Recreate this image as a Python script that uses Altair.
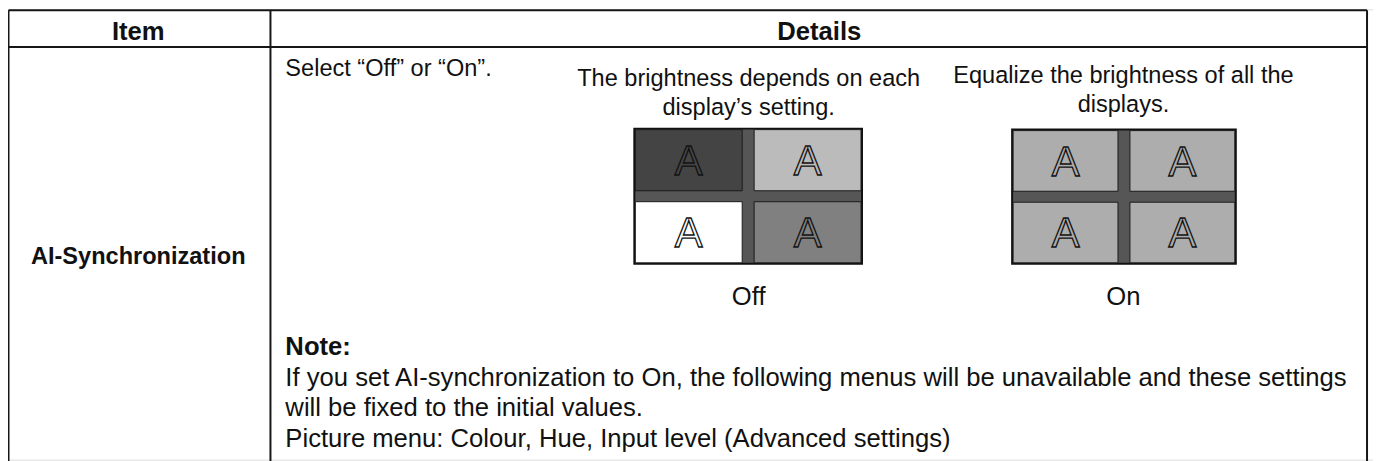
import altair as alt
import pandas as pd

# ---------------- data ----------------
headers = ["Item", "Details"]
item_name = "AI-Synchronization"
intro_text = "Select “Off” or “On”."
modes = ["Off", "On"]
captions = {
    "Off": ["The brightness depends on each", "display’s setting."],
    "On": ["Equalize the brightness of all the", "displays."],
}
tile_letter = "A"
tile_shades = {
    "Off": ["#444444", "#bbbbbb", "#ffffff", "#808080"],
    "On": ["#adadad", "#adadad", "#adadad", "#adadad"],
}
note_title = "Note:"
note_lines = [
    "If you set AI-synchronization to On, the following menus will be unavailable and these settings",
    "will be fixed to the initial values.",
    "Picture menu: Colour, Hue, Input level (Advanced settings)",
]

# ---------------- layout (page pixels) ----------------
W, H = 1373, 453
OX, OY = 8, 8
FONT = "Liberation Sans"
FS_SMALL = 23.7   # captions, intro, item name
FS_LARGE = 25.8   # headers, labels, note block
LINE = "#161616"

def px(v):
    return v - OX

def py(v):
    return v - OY

tbl_left, tbl_right, tbl_top, hdr_bottom, col_div, tbl_bottom = 8.5, 1375, 9, 46, 272, 475
grid_geom = {"Off": (638, 128, 229, 136), "On": (1018, 129, 225, 135)}
grid_center = {"Off": 753, "On": 1130}
caption_base = {"Off": [85, 114], "On": [82, 111]}
label_base = 305
bezel_v, bezel_h = 12, 11

xs = alt.Scale(domain=[0, W], nice=False, zero=False)
ys = alt.Scale(domain=[0, H], nice=False, zero=False, reverse=True)

def X(f="x"):
    return alt.X(f + ":Q", scale=xs, axis=None)

def Y(f="y"):
    return alt.Y(f + ":Q", scale=ys, axis=None)

# table rules
rules = pd.DataFrame([
    dict(x=px(tbl_left), x2=px(tbl_right), y=py(tbl_top), y2=py(tbl_top)),
    dict(x=px(tbl_left), x2=px(tbl_right), y=py(hdr_bottom), y2=py(hdr_bottom)),
    dict(x=px(tbl_left), x2=px(tbl_left), y=py(tbl_top), y2=py(tbl_bottom)),
    dict(x=px(col_div), x2=px(col_div), y=py(tbl_top), y2=py(tbl_bottom)),
    dict(x=px(tbl_right), x2=px(tbl_right), y=py(tbl_top), y2=py(tbl_bottom)),
])
rule_layer = alt.Chart(rules).mark_rule(color=LINE, strokeWidth=2).encode(
    x=X(), x2="x2:Q", y=Y(), y2="y2:Q")

# grids
outer_rows, tile_rows, letter_rows = [], [], []
for m in modes:
    gx, gy, gw, gh = grid_geom[m]
    outer_rows.append(dict(x=px(gx), x2=px(gx + gw), y=py(gy), y2=py(gy + gh)))
    tw = (gw - 2 - bezel_v) / 2
    th = (gh - 2 - bezel_h) / 2
    for i, shade in enumerate(tile_shades[m]):
        r, c = divmod(i, 2)
        x0 = gx + 1 + c * (tw + bezel_v)
        y0 = gy + 1 + r * (th + bezel_h)
        tile_rows.append(dict(x=px(x0), x2=px(x0 + tw), y=py(y0), y2=py(y0 + th), shade=shade))
        letter_rows.append(dict(x=px(x0 + tw / 2), y=py(y0 + th / 2 + 15), shade=shade, t=tile_letter))

outer_layer = alt.Chart(pd.DataFrame(outer_rows)).mark_rect(
    fill="#565656", stroke="#111111", strokeWidth=2).encode(
    x=X(), x2="x2:Q", y=Y(), y2="y2:Q")
tile_layer = alt.Chart(pd.DataFrame(tile_rows)).mark_rect(
    stroke="#1a1a1a", strokeWidth=1).encode(
    x=X(), x2="x2:Q", y=Y(), y2="y2:Q",
    fill=alt.Fill("shade:N", scale=None))
letter_layer = alt.Chart(pd.DataFrame(letter_rows)).mark_text(
    font=FONT, fontSize=42, baseline="alphabetic", align="center",
    stroke="#111111", strokeWidth=1.3).encode(
    x=X(), y=Y(), text="t:N", fill=alt.Fill("shade:N", scale=None))

# texts
head_df = pd.DataFrame([
    dict(x=px(139), y=py(39), t=headers[0]),
    dict(x=px(824), y=py(39), t=headers[1]),
])
item_df = pd.DataFrame([dict(x=px(139), y=py(264), t=item_name)])
cap_rows = []
for m in modes:
    for line, b in zip(captions[m], caption_base[m]):
        cap_rows.append(dict(x=px(grid_center[m]), y=py(b), t=line))
cap_df = pd.DataFrame(cap_rows)
lab_df = pd.DataFrame([dict(x=px(grid_center[m]), y=py(label_base), t=m) for m in modes])
intro_df = pd.DataFrame([dict(x=px(287), y=py(75), t=intro_text)])
note_df = pd.DataFrame([dict(x=px(287), y=py(387 + i * 30.5), t=line)
                        for i, line in enumerate(note_lines)])
note_title_df = pd.DataFrame([dict(x=px(287), y=py(356), t=note_title)])

def text_layer(df, align, weight, size):
    return alt.Chart(df).mark_text(
        font=FONT, fontSize=size, fontWeight=weight, align=align,
        baseline="alphabetic", color="#111111").encode(x=X(), y=Y(), text="t:N")

chart = alt.layer(
    rule_layer, outer_layer, tile_layer, letter_layer,
    text_layer(head_df, "center", "bold", FS_LARGE),
    text_layer(item_df, "center", "bold", FS_SMALL),
    text_layer(cap_df, "center", "normal", FS_SMALL),
    text_layer(lab_df, "center", "normal", FS_LARGE),
    text_layer(intro_df, "left", "normal", FS_SMALL),
    text_layer(note_title_df, "left", "bold", FS_LARGE),
    text_layer(note_df, "left", "normal", FS_LARGE),
).properties(
    width=W, height=H, padding=0,
    autosize=alt.AutoSizeParams(type="none"),
).configure_view(stroke=None).configure(background="white")

chart.save("out.html", embed_options={"renderer": "svg", "actions": False})
